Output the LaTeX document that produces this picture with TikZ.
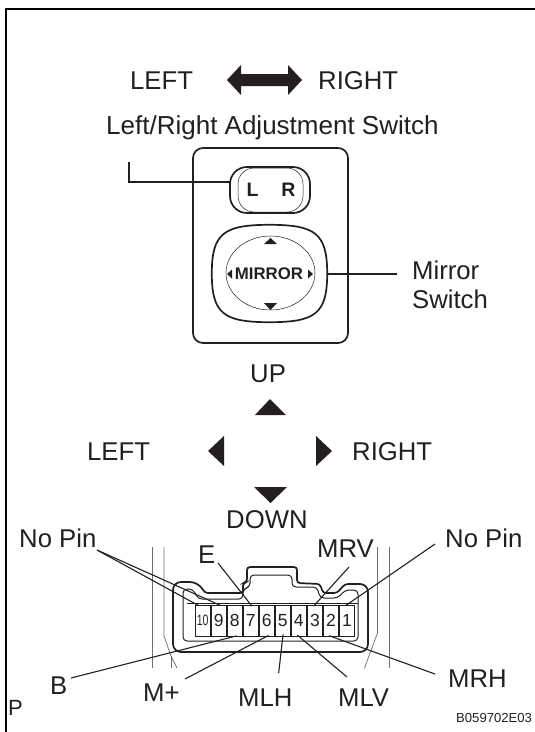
\documentclass[tikz,border=0pt]{standalone}
\usepackage{fontspec}
\setmainfont{Liberation Sans}
\usepackage{tikz}
\usetikzlibrary{shapes.geometric, positioning}
\definecolor{ink}{HTML}{231F20}
\tikzset{
    lbl/.style={anchor=base west, inner sep=0pt, text=ink, font=\fontsize{25.7}{28}\selectfont},
    leader/.style={draw=ink, line width=1.1pt, shorten >=-2pt},
    pincell/.style={draw=ink, line width=0.7pt, minimum width=15.33pt, minimum height=31pt, inner sep=0pt, text=ink, font=\fontsize{17.5}{18}\selectfont},
    btn/.style={draw=ink, line width=1.7pt, inner sep=0pt},
    thinline/.style={draw=ink, line width=0.5pt},
    heavy/.style={draw=ink, line width=1.7pt},
    sideline/.style={draw=ink!65, line width=0.7pt},
    solidtip/.style={fill=ink, draw=none}
}
\begin{document}
\begin{tikzpicture}[x=1pt, y=-1pt]
    \useasboundingbox (0,0) rectangle (535,732);

    % Frame
    \draw[black, line width=2pt] (6,732) -- (6,9) -- (535,9);

    % Top labels
    \node[lbl] (TopLeft) at (130,89) {LEFT};
    \node[lbl] (TopRight) at (318,89) {RIGHT};
    \node[lbl, font=\fontsize{26}{28}\selectfont] (LRTitle) at (106,134) {Left/Right Adjustment Switch};
    \fill[solidtip] (227,80) -- (241,65) -- (241,74) -- (288,74) -- (288,65) -- (302,80)
        -- (288,95) -- (288,86) -- (241,86) -- (241,95) -- cycle;

    % Switch body
    \node[btn, rounded corners=10pt, minimum width=155pt, minimum height=195pt] (Body) at (270.5,245.5) {};
    \node[btn, rounded corners=17pt, minimum width=80pt, minimum height=46pt] (LRBtn) at (270,190) {};
    \node[thinline, inner sep=0pt, rounded corners=16pt, minimum width=65pt, minimum height=44pt] (LRFace) at (270.5,190) {};
    \node[inner sep=0pt, text=ink, font=\fontsize{19.5}{20}\bfseries\selectfont] (LKey) at (252.5,190) {L};
    \node[inner sep=0pt, text=ink, font=\fontsize{19.5}{20}\bfseries\selectfont] (RKey) at (288.5,190) {R};
    \node[inner sep=0pt, minimum width=115pt, minimum height=97pt] (MirrorBtn) at (269.5,273.5) {};
    \draw[heavy] (MirrorBtn.north) .. controls +(46,0) and +(0,-40) .. (MirrorBtn.east)
        .. controls +(0,40) and +(46,0) .. (MirrorBtn.south)
        .. controls +(-46,0) and +(0,40) .. (MirrorBtn.west)
        .. controls +(0,-40) and +(-46,0) .. (MirrorBtn.north) -- cycle;
    \node[thinline, ellipse, inner sep=0pt, minimum width=89pt, minimum height=74pt] (MirrorFace) at (270.5,273) {};
    \node[inner sep=0pt, text=ink, font=\fontsize{16.8}{18}\bfseries\selectfont] (MirrorKey) at (269,274) {MIRROR};
    \fill[solidtip] (270.5,238) -- (277,244) -- (264,244) -- cycle;
    \fill[solidtip] (270.5,310) -- (277,303) -- (264,303) -- cycle;
    \fill[solidtip] (227,274) -- (232,269.5) -- (232,278.5) -- cycle;
    \fill[solidtip] (313,274) -- (308,269.5) -- (308,278.5) -- cycle;

    % Switch callouts
    \coordinate (LRFree) at (129,162);
    \coordinate (LRBend) at (129,182);
    \coordinate (MirrorFree) at (397,274);
    \draw[leader, shorten >=-1pt] (LRFree) -- (LRBend) -- (LRBend -| LRBtn.west);
    \draw[leader, shorten >=0pt] (MirrorFree) -- (MirrorBtn.east |- MirrorFree);
    \node[lbl] (MirrorLine) at (412,279) {Mirror};
    \node[lbl] (SwitchLine) at (412,308) {Switch};

    % Direction marks
    \node[lbl] (UpLabel) at (250,382) {UP};
    \node[lbl] (LeftLabel) at (87,460) {LEFT};
    \node[lbl] (RightLabel) at (352,460) {RIGHT};
    \node[lbl] (DownLabel) at (226,528) {DOWN};
    \fill[solidtip] (270,399) -- (286,415) -- (255,415) -- cycle;
    \fill[solidtip] (270.5,503) -- (287,487) -- (254,487) -- cycle;
    \fill[solidtip] (208,451) -- (224,436) -- (224,466) -- cycle;
    \fill[solidtip] (332,451) -- (316,436) -- (316,466) -- cycle;

    % Side lines
    \draw[sideline] (152,547) -- (152,668);
    \draw[sideline] (164,547) -- (164,636) -- (171,656) -- (177,668);
    \draw[sideline] (171,656) -- (171,668);
    \draw[sideline] (389,547) -- (389,668);
    \draw[sideline] (377.5,547) -- (377.5,633) -- (364.5,668);

    % Connector shell
    \draw[heavy, rounded corners=8pt] (173,620) -- (173,582) -- (198,582) [rounded corners=3pt] -- (205,593) -- (243,593)
        -- (243,583) -- (247,582) -- (247,567) -- (297,567) -- (297,583) -- (320,584) -- (323,593) -- (337,593)
        -- (345,584) [rounded corners=8pt] -- (368,584) -- (368,652) -- (173,652) -- cycle;
    \draw[draw=ink, line width=1pt, rounded corners=4pt] (250,587) -- (250,575) -- (292,575) -- (292,587) -- (317,587)
        -- (320,598) -- (338,598) -- (345,590) -- (358,590) -- (358,641) -- (183,641) -- (183,589) -- (193,589)
        -- (198,599) -- (243,599) -- (243,589) -- cycle;
    \draw[thinline] (187,603) -- (358,603);

    % Pins
    \node[pincell] (P10) at (202.67,620.5) {\fontsize{15}{16}\selectfont\scalebox{0.7}[1]{10}};
    \node[pincell, right=0pt of P10] (P9) {9};
    \node[pincell, right=0pt of P9] (P8) {8};
    \node[pincell, right=0pt of P8] (P7) {7};
    \node[pincell, right=0pt of P7] (P6) {6};
    \node[pincell, right=0pt of P6] (P5) {5};
    \node[pincell, right=0pt of P5] (P4) {4};
    \node[pincell, right=0pt of P4] (P3) {3};
    \node[pincell, right=0pt of P3] (P2) {2};
    \node[pincell, right=0pt of P2] (P1) {1};

    % Pin labels
    \node[lbl] (NoPinA) at (19,547) {No Pin};
    \node[lbl] (NoPinB) at (445,547) {No Pin};
    \node[lbl] (EPin) at (198,563) {E};
    \node[lbl] (MRVPin) at (317,557) {MRV};
    \node[lbl] (BPin) at (50,694) {B};
    \node[lbl] (MPlusPin) at (143,701) {M+};
    \node[lbl] (MLHPin) at (238,706) {MLH};
    \node[lbl] (MLVPin) at (338,706) {MLV};
    \node[lbl] (MRHPin) at (448,687) {MRH};
    \node[lbl, font=\fontsize{22}{24}\selectfont] (PMark) at (8,715) {P};
    \node[lbl, font=\fontsize{13.1}{14}\selectfont] (CodeMark) at (456,722) {B059702E03};

    % Leaders
    \coordinate (NoPinAFree) at (97,550);
    \coordinate (NoPinBFree) at (435,544);
    \coordinate (EFree) at (218,563);
    \coordinate (MRVFree) at (349,567);
    \coordinate (BFree) at (71,678);
    \coordinate (MPlusFree) at (185,679);
    \coordinate (MLHFree) at (278.67,673);
    \coordinate (MLVFree) at (347,677);
    \coordinate (MRHFree) at (435,674);
    \draw[leader] (NoPinAFree) -- (P10.110);
    \draw[leader] (NoPinAFree) -- (P9.north);
    \draw[leader] (EFree) -- (P7.north);
    \draw[leader] (MRVFree) -- (P3.north);
    \draw[leader] (NoPinBFree) -- (P1.north);
    \draw[leader] (BFree) -- (P8.south);
    \draw[leader] (MPlusFree) -- (P6.south);
    \draw[leader] (MLHFree) -- (P5.south);
    \draw[leader] (MLVFree) -- (P4.south);
    \draw[leader] (MRHFree) -- (P2.south);

\end{tikzpicture}
\end{document}
